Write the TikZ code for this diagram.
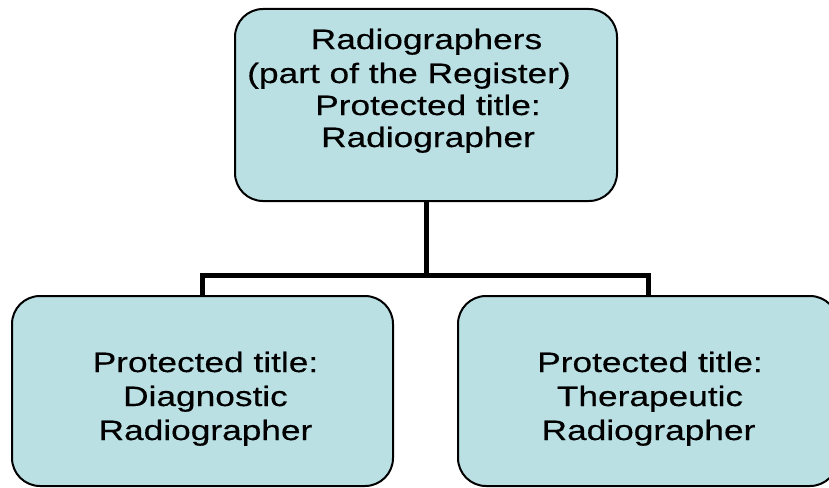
\documentclass[tikz,border=0pt]{standalone}
\usepackage{fontspec}
\setmainfont[FakeStretch=1.26,FakeBold=0.4]{Liberation Sans}
\definecolor{boxfill}{RGB}{186,224,228}
\tikzset{
  box/.style={draw=black, line width=2pt, fill=boxfill, rounded corners=28pt, inner sep=0pt},
  lbl/.style={anchor=base, inner sep=0pt, font=\fontsize{28}{33}\selectfont},
  conn/.style={draw=black, line width=5pt, line join=miter}
}
\begin{document}
\begin{tikzpicture}[x=1pt,y=1pt]
\useasboundingbox (0,-487) rectangle (829,0);
\begin{scope}
\clip (0,-487) rectangle (829,0);
% box positions (named, used by the connectors)
\path (426,-105) node[minimum width=382pt, minimum height=192pt, inner sep=0pt] (top) {};
\path (202.5,-391) node[minimum width=381pt, minimum height=190pt, inner sep=0pt] (left) {};
\path (648,-391) node[minimum width=380pt, minimum height=190pt, inner sep=0pt] (right) {};
\coordinate (junc) at (426,-275);
% connectors
\draw[conn] (top.south) -- (junc);
\draw[conn] (left.north) |- (junc) -| (right.north);
% visible boxes
\node[box, minimum width=382pt, minimum height=192pt] (topbox) at (top) {};
\node[box, minimum width=381pt, minimum height=190pt] (leftbox) at (left) {};
\node[box, minimum width=380pt, minimum height=190pt] (rightbox) at (right) {};
% top text
\node[lbl] (t1) at (426.5,-49) {Radiographers};
\node[lbl] (t2) at (409,-83) {(part of the Register)};
\node[lbl] (t3) at (428,-115) {Protected title:};
\node[lbl] (t4) at (428,-147) {Radiographer};
% left text
\node[lbl] (l1) at (205.5,-372) {Protected title:};
\node[lbl] (l2) at (205.5,-406) {Diagnostic};
\node[lbl] (l3) at (205.5,-440) {Radiographer};
% right text
\node[lbl] (r1) at (650,-372) {Protected title:};
\node[lbl] (r2) at (650,-406) {Therapeutic};
\node[lbl] (r3) at (648.5,-440) {Radiographer};
\end{scope}
\end{tikzpicture}
\end{document}
